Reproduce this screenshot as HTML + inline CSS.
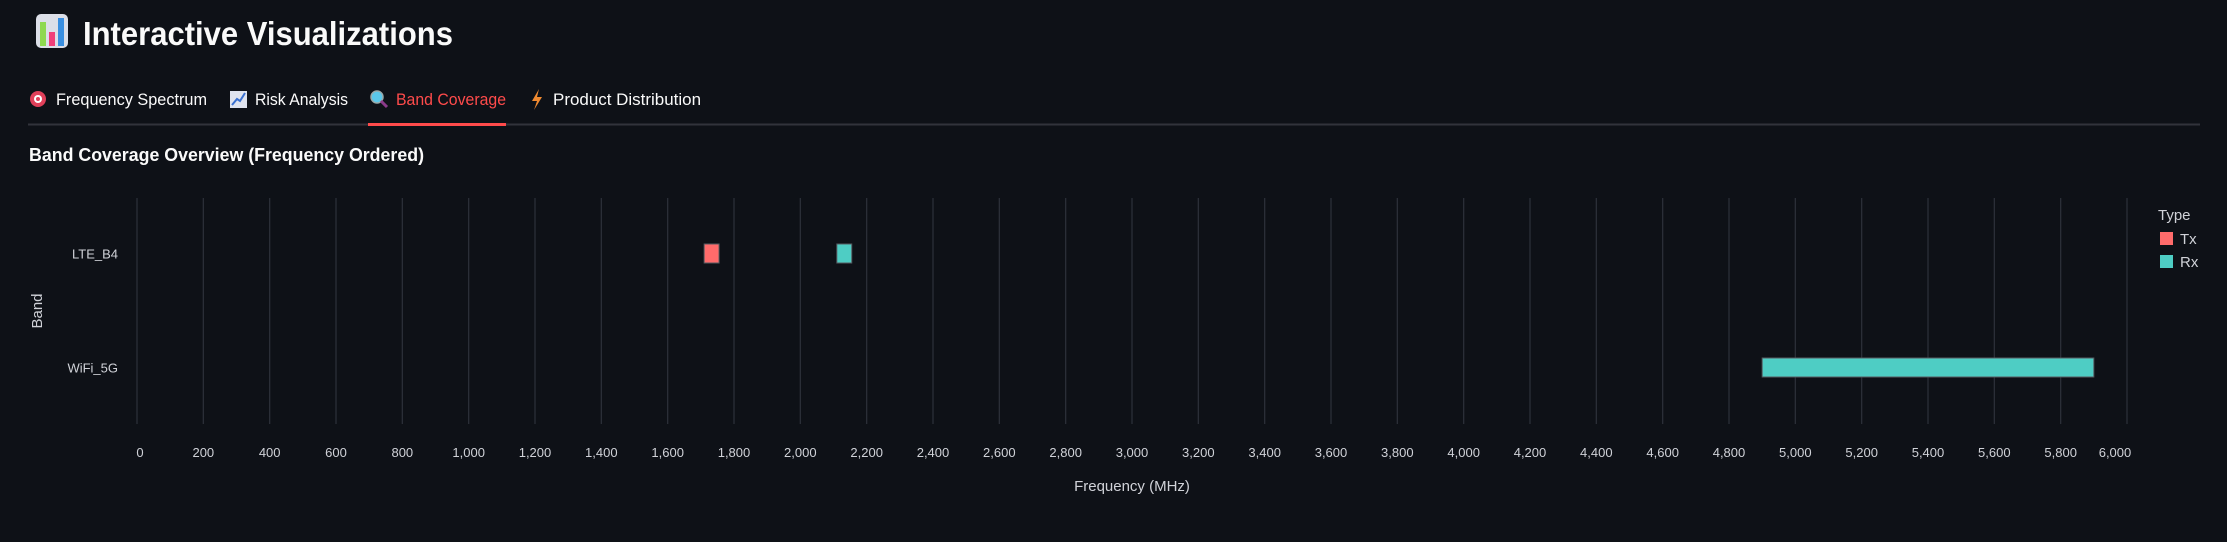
<!DOCTYPE html>
<html><head><meta charset="utf-8"><style>
html,body{margin:0;padding:0;background:#0e1117;width:2227px;height:542px;overflow:hidden}
svg{display:block;font-family:"Liberation Sans",sans-serif}
</style></head><body>
<svg id="chart" width="2227" height="542" viewBox="0 0 2227 542">
  <g>
    <g>
      <rect x="36" y="14" width="32" height="34" rx="5" fill="#dcdfe8"/>
      <rect x="40" y="22" width="6" height="24" fill="#8fd94f"/>
      <rect x="49" y="32" width="6" height="14" fill="#f0407a"/>
      <rect x="58" y="18" width="6" height="28" fill="#3a8fe0"/>
    </g>
    <text x="83" y="45" fill="#fafafa" font-size="33" font-weight="bold" textLength="370" lengthAdjust="spacingAndGlyphs">Interactive Visualizations</text>
  </g>
  <g>
    <line x1="28" y1="124.5" x2="2200" y2="124.5" stroke="#31333b" stroke-width="2"/>
    <g>
      <circle cx="38" cy="99" r="8" fill="#e0405a"/><circle cx="38" cy="99" r="4" fill="#fff"/><circle cx="38" cy="99" r="2" fill="#e0405a"/>
      <text x="56" y="105" fill="#fafafa" font-size="17" textLength="151" lengthAdjust="spacingAndGlyphs">Frequency Spectrum</text>
    </g>
    <g>
      <rect x="230" y="91" width="17" height="17" fill="#dfe3ee"/><polyline points="232,105 237,99 240,101 245,93" fill="none" stroke="#3a70d0" stroke-width="2"/>
      <text x="255" y="105" fill="#fafafa" font-size="17" textLength="93" lengthAdjust="spacingAndGlyphs">Risk Analysis</text>
    </g>
    <g>
      <circle cx="377" cy="97" r="6" fill="#5bc8ea" stroke="#9aa" stroke-width="1.5"/><line x1="381" y1="101" x2="387" y2="107" stroke="#8a3a8a" stroke-width="3"/>
      <text x="396" y="105" fill="#ff4b4b" font-size="17" textLength="110" lengthAdjust="spacingAndGlyphs">Band Coverage</text>
      <rect x="368" y="123" width="138" height="3" fill="#ff4b4b"/>
    </g>
    <g>
      <polygon points="539,89 532,101 537,101 534,110 542,97 537,97" fill="#f08a30"/>
      <text x="553" y="105" fill="#fafafa" font-size="17" textLength="148" lengthAdjust="spacingAndGlyphs">Product Distribution</text>
    </g>
  </g>
  <text x="29" y="161" fill="#fafafa" font-size="18" font-weight="bold" textLength="395" lengthAdjust="spacingAndGlyphs">Band Coverage Overview (Frequency Ordered)</text>
  <g id="grid"></g>
  <g id="xticks"></g>
  <g id="yticks"></g>
  <g id="bars"></g>
  <text x="1132" y="491" fill="#d0d2d8" font-size="15" text-anchor="middle">Frequency (MHz)</text>
  <text transform="translate(42,311) rotate(-90)" fill="#d0d2d8" font-size="15" text-anchor="middle">Band</text>
  <g>
    <text x="2158" y="220" fill="#d0d2d8" font-size="15">Type</text>
    <g>
      <rect x="2160" y="232" width="13" height="13" fill="#ff6b6b"/>
      <text x="2180" y="244" fill="#d0d2d8" font-size="15">Tx</text>
    </g>
    <g>
      <rect x="2160" y="255" width="13" height="13" fill="#4ecdc4"/>
      <text x="2180" y="267" fill="#d0d2d8" font-size="15">Rx</text>
    </g>
  </g>
</svg>
<script>
const bands = ["LTE_B4", "WiFi_5G"];
const barBand = ["LTE_B4", "LTE_B4", "WiFi_5G"];
const barType = ["Tx", "Rx", "Rx"];
const barStart = [1710, 2110, 4900];
const barEnd = [1755, 2155, 5900];
const xTickValues = [0,200,400,600,800,1000,1200,1400,1600,1800,2000,2200,2400,2600,2800,3000,3200,3400,3600,3800,4000,4200,4400,4600,4800,5000,5200,5400,5600,5800,6000];
const typeColors = {Tx: "#ff6b6b", Rx: "#4ecdc4"};

const NS = "http://www.w3.org/2000/svg";
const X0 = 137, X1 = 2127, VMAX = 6000;
const xs = v => X0 + (v / VMAX) * (X1 - X0);
const yTop = 198, yBot = 424;
const yCenter = {LTE_B4: 253.5, WiFi_5G: 367.5};
const ys = b => yCenter[b];
const barH = 19;

const grid = document.getElementById("grid");
const xt = document.getElementById("xticks");
xTickValues.forEach((v, i) => {
  const l = document.createElementNS(NS, "line");
  
  
  l.setAttribute("x1", xs(v)); l.setAttribute("x2", xs(v));
  l.setAttribute("y1", yTop); l.setAttribute("y2", yBot);
  l.setAttribute("stroke", "#2b2f38"); l.setAttribute("stroke-width", "1.3");
  grid.appendChild(l);
  const t = document.createElementNS(NS, "text");
  
  
  let x = xs(v);
  if (v === 0) x += 3;
  if (v === 6000) x -= 12;
  t.setAttribute("x", x); t.setAttribute("y", 457);
  t.setAttribute("fill", "#d0d2d8"); t.setAttribute("font-size", "13");
  t.setAttribute("text-anchor", "middle");
  t.textContent = v.toLocaleString("en-US");
  xt.appendChild(t);
});

const yt = document.getElementById("yticks");
bands.forEach(b => {
  const t = document.createElementNS(NS, "text");
  
  
  t.setAttribute("x", 118); t.setAttribute("y", ys(b) + 5);
  t.setAttribute("fill", "#d0d2d8"); t.setAttribute("font-size", "13");
  t.setAttribute("text-anchor", "end");
  t.textContent = b;
  yt.appendChild(t);
});

const bars = document.getElementById("bars");
barBand.forEach((b, i) => {
  const r = document.createElementNS(NS, "rect");
  
  
  r.setAttribute("x", xs(barStart[i]));
  r.setAttribute("width", xs(barEnd[i]) - xs(barStart[i]));
  r.setAttribute("y", ys(b) - barH / 2);
  r.setAttribute("height", barH);
  r.setAttribute("fill", typeColors[barType[i]]);
  r.setAttribute("stroke", "#555a60"); r.setAttribute("stroke-width", "1");
  bars.appendChild(r);
});
</script>
</body></html>
